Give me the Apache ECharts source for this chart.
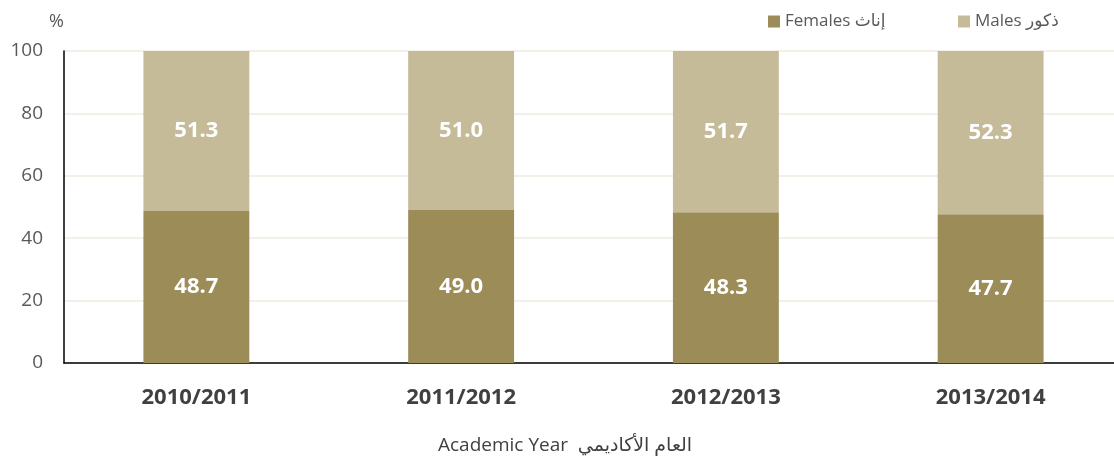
<!DOCTYPE html>
<html><head><meta charset="utf-8">
<script src="https://cdn.jsdelivr.net/npm/echarts@6/dist/echarts.min.js"></script>
<style>html,body{margin:0;padding:0;background:#fff;overflow:hidden;width:1114px;height:461px}#c{width:1123px;height:461px}</style>
</head><body><div id="c"></div>
<script>
const categories = ['2010/2011', '2011/2012', '2012/2013', '2013/2014'];
const females = [48.7, 49.0, 48.3, 47.7];
const males = [51.3, 51.0, 51.7, 52.3];
const yTicks = [0, 20, 40, 60, 80, 100];
const seriesNames = ['Females إناث', 'Males ذكور'];
const xAxisTitle = 'Academic Year  العام الأكاديمي';

const FONT = '"Open Sans", "DejaVu Sans", sans-serif';
const chart = echarts.init(document.getElementById('c'));
const lbl = {show: true, position: 'inside', color: '#fff', fontWeight: 'bold', fontSize: 22, fontFamily: FONT,
  formatter: p => p.value.toFixed(1)};
const legendBase = {top: 8, itemWidth: 12, itemHeight: 12, icon: 'rect', itemGap: 8,
  textStyle: {fontSize: 17, color: '#595959', fontFamily: FONT}};
chart.setOption({
  animation: false,
  textStyle: {fontFamily: FONT},
  title: {text: xAxisTitle, left: 433, top: 431,
    textStyle: {fontSize: 19, fontWeight: 'normal', color: '#404040', fontFamily: FONT}},
  legend: [
    Object.assign({}, legendBase, {left: 763, data: [seriesNames[0]]}),
    Object.assign({}, legendBase, {left: 953, data: [seriesNames[1]]})
  ],
  grid: {left: 64, right: 0, top: 51, bottom: 98, containLabel: false},
  xAxis: {
    type: 'category', data: categories,
    axisLine: {lineStyle: {color: '#000', width: 1.5}},
    axisTick: {show: false},
    axisLabel: {fontSize: 22, fontWeight: 'bold', color: '#404040', margin: 24, fontFamily: FONT}
  },
  yAxis: {
    type: 'value', min: yTicks[0], max: yTicks[yTicks.length - 1], interval: 20,
    axisLine: {show: true, lineStyle: {color: '#000', width: 1.5}},
    axisLabel: {fontSize: 19, color: '#595959', margin: 21, fontFamily: FONT},
    splitLine: {lineStyle: {color: '#EEEBE0', width: 1.5}},
    name: '%', nameLocation: 'end', nameGap: 20,
    nameTextStyle: {fontSize: 18, color: '#595959', align: 'right', padding: [0, 0, 0, 0]}
  },
  series: [
    {name: seriesNames[0], type: 'bar', stack: 'a', data: females, barWidth: '40%',
      itemStyle: {color: '#9C8C58'}, label: lbl},
    {name: seriesNames[1], type: 'bar', stack: 'a', data: males, barWidth: '40%',
      itemStyle: {color: '#C5BB98'}, label: lbl}
  ]
});
</script></body></html>
